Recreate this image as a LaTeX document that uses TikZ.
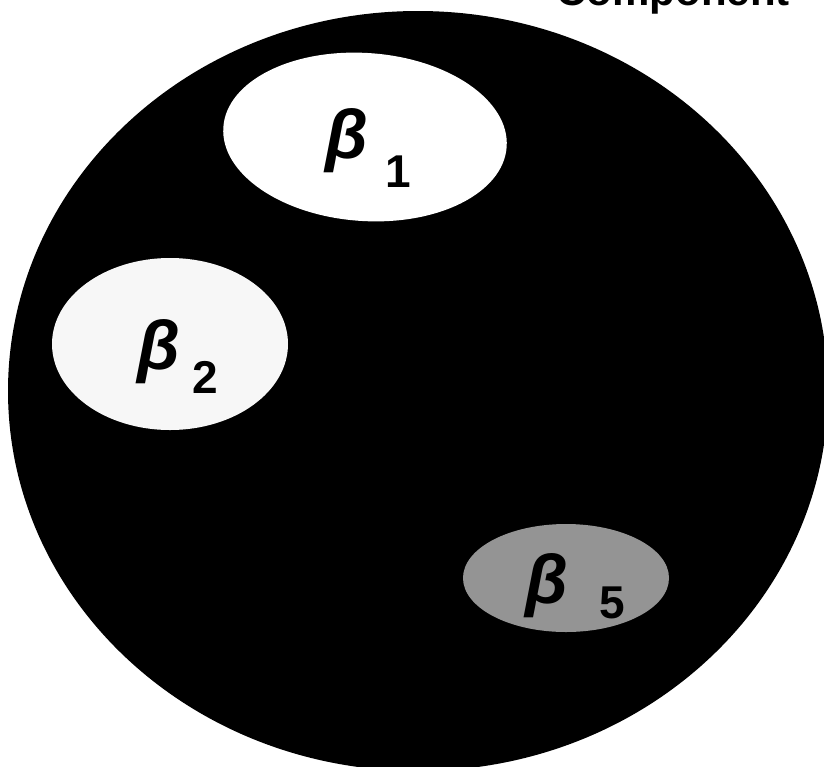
\documentclass[tikz,border=0pt]{standalone}
\usepackage{fontspec}
\setmainfont{Liberation Sans}
\usetikzlibrary{shapes.geometric}
\tikzset{
  blob/.style={ellipse, inner sep=0pt, draw=none},
  greek/.style={inner sep=0pt, font=\fontsize{69}{69}\selectfont\bfseries\itshape},
  subdigit/.style={inner sep=0pt, font=\fontsize{46}{46}\selectfont\bfseries},
  toplabel/.style={inner sep=0pt, font=\fontsize{42}{42}\selectfont\bfseries}
}
\begin{document}
\begin{tikzpicture}[x=1pt,y=-1pt]
\useasboundingbox (0,0) rectangle (824,766);
% the big dark disc
\node[blob, fill=black, minimum width=820, minimum height=760] (disc) at (418,391) {};
% inner regions
\node[blob, fill=white, minimum width=284, minimum height=168, rotate=-4] (r1) at (365,137) {};
\node[blob, fill=black!3, minimum width=236, minimum height=172] (r2) at (170,344) {};
\node[blob, fill=black!42, minimum width=206, minimum height=108] (r5) at (566,578) {};
% labels
\node[greek, anchor=base west] (b1) at (325,158) {β};
\node[subdigit, anchor=base west] (s1) at (385,187) {1};
\node[greek, anchor=base west] (b2) at (137,369) {β};
\node[subdigit, anchor=base west] (s2) at (192,393) {2};
\node[greek, anchor=base west] (b5) at (525,603) {β};
\node[subdigit, anchor=base west] (s5) at (599,618) {5};
\node[toplabel, anchor=base east] (comp) at (790,5) {Component};
\end{tikzpicture}
\end{document}
